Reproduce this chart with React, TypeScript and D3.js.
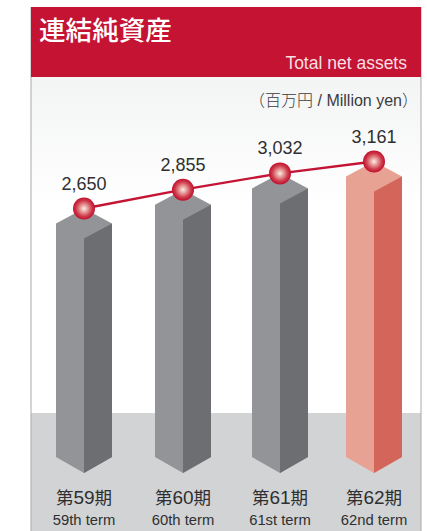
import React from "react";
import * as d3 from "d3";

// Consolidated net assets by fiscal term, in millions of yen
const termsJa = ["第59期", "第60期", "第61期", "第62期"];
const termsEn = ["59th term", "60th term", "61st term", "62nd term"];
const netAssets = [2650, 2855, 3032, 3161];

const WIDTH = 427;
const HEIGHT = 531;
const PANEL = { left: 31, right: 421, top: 7, headerBottom: 77, floorTop: 413 };
const HALF_BAR = 28;
const TOP_DEPTH = 15;
const BASE_Y = 457;
const TIP_DEPTH = 16;
const BAR_CENTERS = [84, 183, 280, 374];

const x = d3.scaleOrdinal<string, number>().domain(termsJa).range(BAR_CENTERS);
const y = d3.scaleLinear().domain([0, 3161]).range([452.5, 161.5]);

const SANS = "'Liberation Sans', Arial, sans-serif";
const CJK = "'Noto Sans CJK JP', sans-serif";

const poly = (pts: [number, number][]) => d3.line()(pts) + "Z";

const GREY = { left: "#939498", right: "#6d6e71" };
const SALMON = { left: "#e7a294", right: "#d4655b" };

export default function App() {
  const linePath = d3
    .line<number>()
    .x((_, i) => x(termsJa[i]))
    .y((d) => y(d))(netAssets);

  return (
    <svg
      width={WIDTH}
      height={HEIGHT}
      style={{ position: "absolute", left: 0, top: 0, background: "#fff" }}
    >
      <defs>
        <linearGradient id="panelBg" x1="0" y1="0" x2="0" y2="1">
          <stop offset="0" stopColor="#f3f4f4" />
          <stop offset="1" stopColor="#ffffff" />
        </linearGradient>
        <radialGradient id="ball" cx="0.5" cy="0.5" r="0.5">
          <stop offset="0" stopColor="#fbeee9" />
          <stop offset="0.3" stopColor="#e9a5a0" />
          <stop offset="0.72" stopColor="#cf3a4c" />
          <stop offset="1" stopColor="#bf102c" />
        </radialGradient>
      </defs>

      {/* Panel: header band, fading background, floor */}
      <rect x={PANEL.left} y={PANEL.headerBottom} width={PANEL.right - PANEL.left} height={130} fill="url(#panelBg)" />
      <rect x={PANEL.left} y={PANEL.floorTop} width={PANEL.right - PANEL.left} height={HEIGHT - PANEL.floorTop} fill="#d1d3d4" />
      <line x1={PANEL.left} x2={PANEL.left} y1={PANEL.top} y2={HEIGHT} stroke="#a7a9ac" strokeWidth={1} />
      <line x1={PANEL.right} x2={PANEL.right} y1={PANEL.top} y2={HEIGHT} stroke="#a7a9ac" strokeWidth={1} />
      <rect x={PANEL.left} y={PANEL.top} width={PANEL.right - PANEL.left} height={PANEL.headerBottom - PANEL.top} fill="#c41333" />

      <text x={39} y={40} fill="#fff" fontFamily={CJK} fontSize={26.6} fontWeight={500}>
        連結純資産
      </text>
      <text x={407} y={69} fill="#f7dfe2" textAnchor="end" fontFamily={SANS} fontSize={17.5}>
        Total net assets
      </text>
      <text x={418} y={105.5} fill="#3b3b3d" textAnchor="end" fontFamily={SANS} fontSize={16}>
        <tspan fontFamily={CJK} fontWeight={300}>（百万円</tspan> / Million yen<tspan fontFamily={CJK} fontWeight={300}>）</tspan>
      </text>

      {/* Prism bars: value sits at the back apex; top and left faces share one fill */}
      {netAssets.map((v, i) => {
        const term = termsJa[i];
        const cx = x(term);
        const apex = y(v);
        const c = i === netAssets.length - 1 ? SALMON : GREY;
        const l = cx - HALF_BAR;
        const r = cx + HALF_BAR;
        const shoulder = apex + TOP_DEPTH;
        const front = shoulder + TOP_DEPTH;
        const tip = BASE_Y + TIP_DEPTH;
        return (
          <g key={term}>
            <path d={poly([[l, shoulder], [cx, apex], [r, shoulder], [r, BASE_Y], [cx, tip], [l, BASE_Y]])} fill={c.left} />
            <path d={poly([[cx, front], [r, shoulder], [r, BASE_Y], [cx, tip]])} fill={c.right} />
          </g>
        );
      })}

      {/* Trend line with markers and value labels */}
      <path d={linePath ?? ""} fill="none" stroke="#c41333" strokeWidth={2.4} />
      {netAssets.map((v, i) => {
        const cx = x(termsJa[i]);
        const cy = y(v);
        return (
          <g key={termsJa[i]}>
            <circle cx={cx} cy={cy} r={11} fill="url(#ball)" />
            <text x={cx} y={cy - 19} textAnchor="middle" fill="#2f2f31" fontFamily={SANS} fontSize={18}>
              {d3.format(",")(v)}
            </text>
          </g>
        );
      })}

      {/* Term labels on the floor */}
      {termsJa.map((t, i) => (
        <g key={t} textAnchor="middle" fill="#2f2f31">
          <text x={x(t)} y={504} fontFamily={CJK} fontSize={17.5} fontWeight={400}>
            {t[0]}
            <tspan fontFamily={SANS} fontSize={19}>{t.slice(1, 3)}</tspan>
            {t[3]}
          </text>
          <text x={x(t)} y={525} fontFamily={SANS} fontSize={14.8}>
            {termsEn[i]}
          </text>
        </g>
      ))}
    </svg>
  );
}
